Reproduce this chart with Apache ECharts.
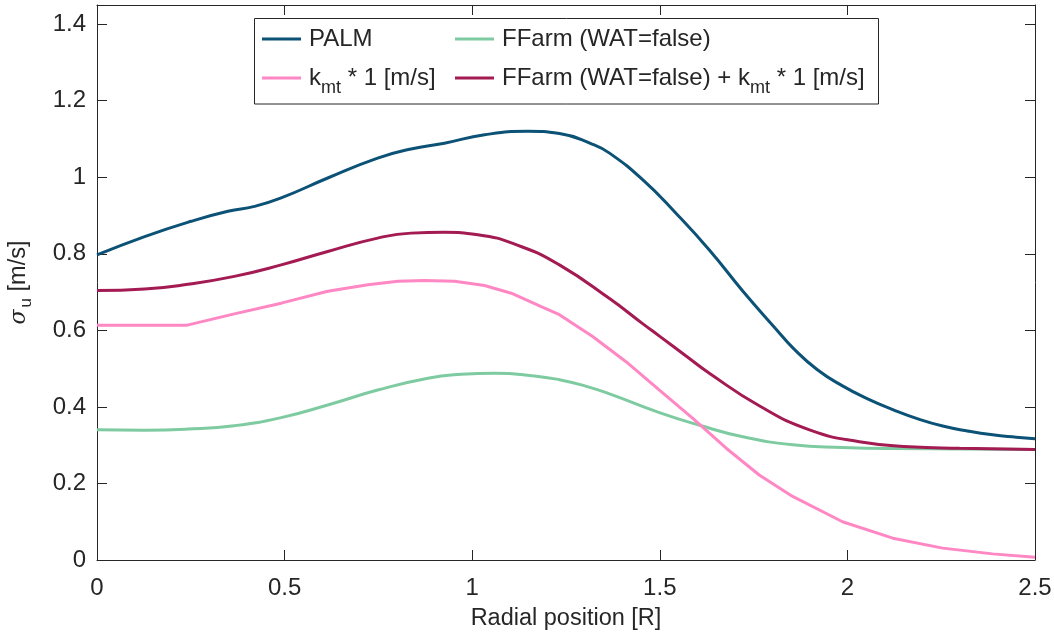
<!DOCTYPE html>
<html>
<head>
<meta charset="utf-8">
<script src="https://cdn.jsdelivr.net/npm/echarts@6/dist/echarts.min.js"></script>
<style>html,body{margin:0;padding:0;background:#fff}#c{width:1054px;height:637px}</style>
</head>
<body>
<div id="c"></div>
<script>
// ---- data ----
const seriesNames = ['PALM', 'FFarm (WAT=false)', 'kmt', 'FFarm (WAT=false) + kmt'];
const xTicks = [0, 0.5, 1, 1.5, 2, 2.5];
const yTicks = [0, 0.2, 0.4, 0.6, 0.8, 1, 1.2, 1.4];

const palmX = [0, 0.127, 0.251, 0.349, 0.42, 0.491, 0.615, 0.748, 0.837, 0.926, 1.033, 1.148, 1.2325, 1.321, 1.366, 1.455, 1.543, 1.632, 1.721, 1.810, 1.854, 1.92, 1.987, 2.054, 2.121, 2.19, 2.254, 2.32, 2.387, 2.45, 2.5];
const palmY = [0.797, 0.845, 0.885, 0.911, 0.924, 0.946, 0.998, 1.050, 1.074, 1.089, 1.111, 1.120, 1.114, 1.086, 1.063, 0.993, 0.906, 0.810, 0.703, 0.603, 0.555, 0.497, 0.455, 0.421, 0.393, 0.368, 0.350, 0.337, 0.327, 0.321, 0.317];

const ffarmX = [0, 0.127, 0.242, 0.366, 0.491, 0.615, 0.748, 0.882, 0.971, 1.059, 1.166, 1.2325, 1.3, 1.366, 1.499, 1.606, 1.721, 1.854, 1.987, 2.121, 2.5];
const ffarmY = [0.340, 0.339, 0.342, 0.351, 0.372, 0.405, 0.444, 0.475, 0.485, 0.488, 0.481, 0.471, 0.455, 0.434, 0.385, 0.352, 0.322, 0.301, 0.294, 0.291, 0.289];

const kmtX = [0, 0.238, 0.366, 0.491, 0.615, 0.722, 0.802, 0.873, 0.953, 1.033, 1.104, 1.184, 1.2325, 1.321, 1.410, 1.499, 1.588, 1.677, 1.765, 1.854, 1.987, 2.121, 2.254, 2.387, 2.5];
const kmtY = [0.613, 0.613, 0.643, 0.671, 0.702, 0.719, 0.728, 0.730, 0.728, 0.717, 0.697, 0.662, 0.641, 0.584, 0.518, 0.444, 0.370, 0.292, 0.222, 0.166, 0.100, 0.057, 0.031, 0.016, 0.007];

const sumX = [0, 0.127, 0.233, 0.366, 0.491, 0.615, 0.748, 0.837, 0.926, 1.015, 1.130, 1.2325, 1.366, 1.455, 1.499, 1.570, 1.632, 1.765, 1.899, 2.032, 2.165, 2.299, 2.5];
const sumY = [0.704, 0.708, 0.719, 0.741, 0.771, 0.806, 0.841, 0.854, 0.856, 0.850, 0.819, 0.771, 0.683, 0.617, 0.585, 0.533, 0.488, 0.403, 0.340, 0.309, 0.296, 0.292, 0.289];

// ---- styling ----
const FONT = '"Liberation Sans", Arial, Helvetica, sans-serif';
const INK = '#262626';
const colors = ['#0c5276', '#7ecba1', '#ff87c3', '#a31b52'];

function zip(xs, ys) { return xs.map((x, i) => [x, ys[i]]); }

const rich = {
  n: { fontFamily: FONT, fontSize: 24, color: INK, lineHeight: 28 },
  s: { fontFamily: FONT, fontSize: 18, color: INK, lineHeight: 18, padding: [20, 0, 0, 0] }
};

function legendLabel(name) {
  if (name === 'kmt') return '{n|k}{s|mt}{n| * 1 [m/s]}';
  if (name === 'FFarm (WAT=false) + kmt') return '{n|FFarm (WAT=false) + k}{s|mt}{n| * 1 [m/s]}';
  return '{n|' + name + '}';
}

function mkLegend(name, left, top) {
  return {
    data: [name], left: left, top: top, orient: 'vertical', padding: 0,
    icon: 'rect', itemWidth: 39, itemHeight: 3, itemGap: 0,
    selectedMode: false,
    formatter: legendLabel,
    textStyle: { fontFamily: FONT, fontSize: 24, color: INK, rich: rich, padding: [0, 0, 0, 3] }
  };
}

const axisCommonX = {
  type: 'value', min: 0, max: 2.5, interval: 0.5,
  axisLine: { show: true, onZero: false, lineStyle: { color: INK, width: 1 } },
  axisTick: { show: true, inside: true, length: 10, lineStyle: { color: INK, width: 1 } },
  splitLine: { show: false }
};
const axisCommonY = {
  type: 'value', min: 0, max: 1.45, interval: 0.2,
  axisLine: { show: true, onZero: false, lineStyle: { color: INK, width: 1 } },
  axisTick: { show: true, inside: true, length: 10, lineStyle: { color: INK, width: 1 } },
  splitLine: { show: false }
};

const chart = echarts.init(document.getElementById('c'), null, { renderer: 'canvas' });
chart.setOption({
  animation: false,
  backgroundColor: '#ffffff',
  grid: { left: 97, right: 19, top: 5, bottom: 77, containLabel: false, outerBoundsMode: 'none' },
  xAxis: [
    Object.assign({}, axisCommonX, {
      position: 'bottom',
      axisLabel: { show: true, margin: 16, fontFamily: FONT, fontSize: 24, color: INK,
        formatter: v => xTicks.includes(+v.toFixed(3)) ? String(+v.toFixed(3)) : '' },
      name: 'Radial position [R]', nameLocation: 'middle', nameGap: 47,
      nameTextStyle: { fontFamily: FONT, fontSize: 23.5, color: INK }
    }),
    Object.assign({}, axisCommonX, { position: 'top', axisLabel: { show: false } })
  ],
  yAxis: [
    Object.assign({}, axisCommonY, {
      position: 'left',
      axisLabel: { show: true, margin: 11, fontFamily: FONT, fontSize: 24, color: INK, showMaxLabel: false,
        formatter: v => yTicks.includes(+v.toFixed(3)) ? String(+v.toFixed(3)) : '' },
      name: '{g|σ}{s|u}{n| [m/s]}', nameLocation: 'middle', nameGap: 64, nameRotate: 90,
      nameTextStyle: { fontFamily: FONT, fontSize: 23.5, color: INK,
        rich: {
          g: { fontFamily: '"DejaVu Serif", serif', fontStyle: 'italic', fontSize: 22, color: INK, lineHeight: 28 },
          n: { fontFamily: FONT, fontSize: 23.5, color: INK, lineHeight: 28 },
          s: { fontFamily: FONT, fontSize: 17, color: INK, lineHeight: 17, padding: [14, 0, 0, 2] }
        } }
    }),
    Object.assign({}, axisCommonY, { position: 'right', axisLabel: { show: false } })
  ],
  legend: [
    mkLegend(seriesNames[0], 262, 27),
    mkLegend(seriesNames[1], 455, 27),
    mkLegend(seriesNames[2], 262, 59),
    mkLegend(seriesNames[3], 455, 59)
  ],
  graphic: [{
    type: 'rect', z: 3, silent: true,
    shape: { x: 254.5, y: 18.5, width: 624, height: 85.5 },
    style: { fill: '#ffffff', stroke: INK, lineWidth: 1 }
  }],
  series: [
    { name: seriesNames[0], type: 'line', data: zip(palmX, palmY) },
    { name: seriesNames[1], type: 'line', data: zip(ffarmX, ffarmY) },
    { name: seriesNames[2], type: 'line', data: zip(kmtX, kmtY), smooth: false },
    { name: seriesNames[3], type: 'line', data: zip(sumX, sumY) }
  ].map((s, i) => Object.assign({
    xAxisIndex: 0, yAxisIndex: 0, showSymbol: false, symbol: 'none', smooth: 0.5,
    color: colors[i], lineStyle: { color: colors[i], width: 3 }, z: 2 + i
  }, s))
});
</script>
</body>
</html>
